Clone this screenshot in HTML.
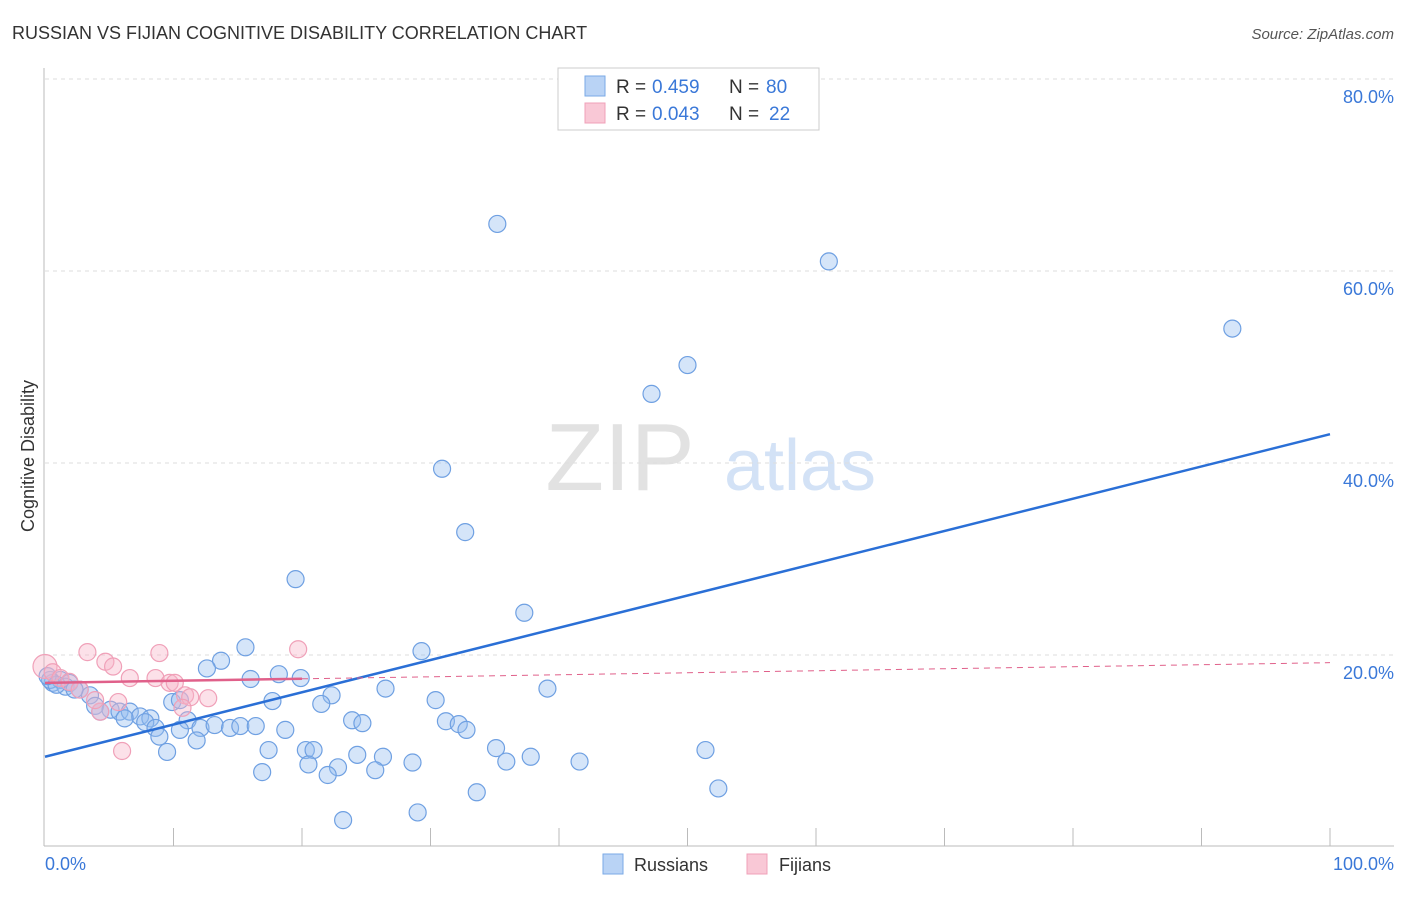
<!DOCTYPE html>
<html><head><meta charset="utf-8"><style>
body{margin:0;background:#fff;font-family:"Liberation Sans",sans-serif;}
svg text{font-family:"Liberation Sans",sans-serif;}
</style></head><body>
<svg id="chart" width="1406" height="892">
<text x="12" y="39" font-size="18" fill="#333">RUSSIAN VS FIJIAN COGNITIVE DISABILITY CORRELATION CHART</text>
<text x="1394" y="39" font-size="15" fill="#555" text-anchor="end" font-style="italic">Source: ZipAtlas.com</text>
<text x="620" y="490" font-size="96" fill="#e2e2e2" font-family="Liberation Serif" text-anchor="middle">ZIP</text>
<text x="800" y="490" font-size="72" fill="#d3e2f6" text-anchor="middle">atlas</text>
<g id="grid"></g><g id="axes"></g><g id="pts"></g><g id="lines"></g>
<text x="34" y="456" font-size="18" fill="#333" text-anchor="middle" transform="rotate(-90 34 456)">Cognitive Disability</text>
<text x="45" y="870" font-size="18" fill="#3a78d8">0.0%</text>
<text x="1394" y="870" font-size="18" fill="#3a78d8" text-anchor="end">100.0%</text>
<g>
<rect x="558" y="68" width="261" height="62" fill="#fff" stroke="#ccc"/>
<rect x="585" y="76" width="20" height="20" fill="#b9d3f5" stroke="#7aa9e6"/>
<text x="616" y="93" font-size="19" fill="#333">R =</text><text x="652" y="93" font-size="19" fill="#3a78d8">0.459</text>
<text x="729" y="93" font-size="19" fill="#333">N =</text><text x="766" y="93" font-size="19" fill="#3a78d8">80</text>
<rect x="585" y="103" width="20" height="20" fill="#f9c8d6" stroke="#f0a0b8"/>
<text x="616" y="120" font-size="19" fill="#333">R =</text><text x="652" y="120" font-size="19" fill="#3a78d8">0.043</text>
<text x="729" y="120" font-size="19" fill="#333">N =</text><text x="769" y="120" font-size="19" fill="#3a78d8">22</text>
</g>
<g>
<rect x="603" y="854" width="20" height="20" fill="#b9d3f5" stroke="#7aa9e6"/>
<text x="634" y="871" font-size="18" fill="#333">Russians</text>
<rect x="747" y="854" width="20" height="20" fill="#f9c8d6" stroke="#f0a0b8"/>
<text x="779" y="871" font-size="18" fill="#333">Fijians</text>
</g>
</svg>
<script>
const yTicks=[20,40,60,80];
const yTickLabels=["20.0%","40.0%","60.0%","80.0%"];
const russX=[35.2,61.0,92.4,50.0,47.2,30.9,32.7,19.5,37.3,15.6,29.3,13.7,12.6,18.2,19.9,16.0,0.6,1.2,1.9,1.6,2.7,3.5,26.5,39.1,22.3,17.7,30.4,21.5,9.9,3.9,5.1,5.8,6.6,7.4,8.2,7.8,8.6,8.9,11.1,10.5,12.1,13.2,14.4,15.2,16.4,18.7,23.9,24.7,31.2,32.2,32.8,11.8,9.5,17.4,20.3,20.9,24.3,26.3,35.1,35.9,37.8,51.4,20.5,22.8,28.6,41.6,16.9,22.0,25.7,33.6,52.4,29.0,23.2,0.4,0.9,2.3,4.3,6.2,10.5,0.2];
const russY=[64.9,61.0,54.0,50.2,47.2,39.4,32.8,27.9,24.4,20.8,20.4,19.4,18.6,18.0,17.6,17.5,17.1,17.4,17.1,16.7,16.4,15.8,16.5,16.5,15.8,15.2,15.3,14.9,15.1,14.7,14.3,14.1,14.1,13.6,13.4,13.0,12.4,11.5,13.2,12.2,12.4,12.7,12.4,12.6,12.6,12.2,13.2,12.9,13.1,12.8,12.2,11.1,9.9,10.1,10.1,10.1,9.6,9.4,10.3,8.9,9.4,10.1,8.6,8.3,8.8,8.9,7.8,7.5,8.0,5.7,6.1,3.6,2.8,17.4,16.9,16.4,14.1,13.4,15.3,17.8];
const fijiX=[0,0.6,1.2,1.9,2.7,3.3,4.7,5.3,5.7,6.6,4.3,8.9,8.6,9.7,10.1,10.9,11.3,12.7,10.7,6.0,19.7,3.9];
const fijiY=[18.8,18.2,17.6,17.2,16.4,20.3,19.3,18.8,15.1,17.6,14.1,20.2,17.6,17.1,17.1,15.8,15.6,15.5,14.5,10.0,20.6,15.3];
const russLine=[9.4,43.0];
const fijiLine=[17.1,19.2];
const NS="http://www.w3.org/2000/svg";
const X=v=>45+v*12.85, Y=v=>847-v*9.6;
function mk(p,t,a){const e=document.createElementNS(NS,t);for(const k in a)e.setAttribute(k,a[k]);document.getElementById(p).appendChild(e);return e;}
yTicks.forEach((t,i)=>{
 const g=mk('grid','line',{x1:45,x2:1394,y1:Y(t),y2:Y(t),stroke:'#ddd','stroke-dasharray':'4,4'});
 
 
 const l=mk('grid','text',{x:1394,y:Y(t)+24,'font-size':18,fill:'#3a78d8','text-anchor':'end'});
 l.textContent=yTickLabels[i];
 
 
});
mk('axes','line',{x1:44,x2:44,y1:68,y2:846,stroke:'#bbb'});
mk('axes','line',{x1:44,x2:1394,y1:846,y2:846,stroke:'#bbb'});
for(let i=1;i<=10;i++){const t=mk('axes','line',{x1:X(i*10),x2:X(i*10),y1:828,y2:846,stroke:'#bbb'});
 
 }
russX.forEach((v,i)=>{const c=mk('pts','circle',{cx:X(v),cy:Y(russY[i]),r:8.5,fill:'rgba(150,190,240,0.4)',stroke:'#6fa0e2','stroke-width':1.2});
 
 });
fijiX.forEach((v,i)=>{const c=mk('pts','circle',{cx:X(v),cy:Y(fijiY[i]),r:i==0?12:8.5,fill:'rgba(248,180,200,0.4)',stroke:'#f0a0b8','stroke-width':1.2});
 
 });
const rl=mk('lines','line',{x1:X(0),y1:Y(russLine[0]),x2:X(100),y2:Y(russLine[1]),stroke:'#2a6fd6','stroke-width':2.5});


const fy=x=>fijiLine[0]+(fijiLine[1]-fijiLine[0])*x/100;
const fl=mk('lines','line',{x1:X(0),y1:Y(fy(0)),x2:X(20),y2:Y(fy(20)),stroke:'#e0608a','stroke-width':2.5});


const fd=mk('lines','line',{x1:X(20),y1:Y(fy(20)),x2:X(100),y2:Y(fy(100)),stroke:'#e0608a','stroke-width':1,'stroke-dasharray':'6,5'});


</script>
</body></html>
